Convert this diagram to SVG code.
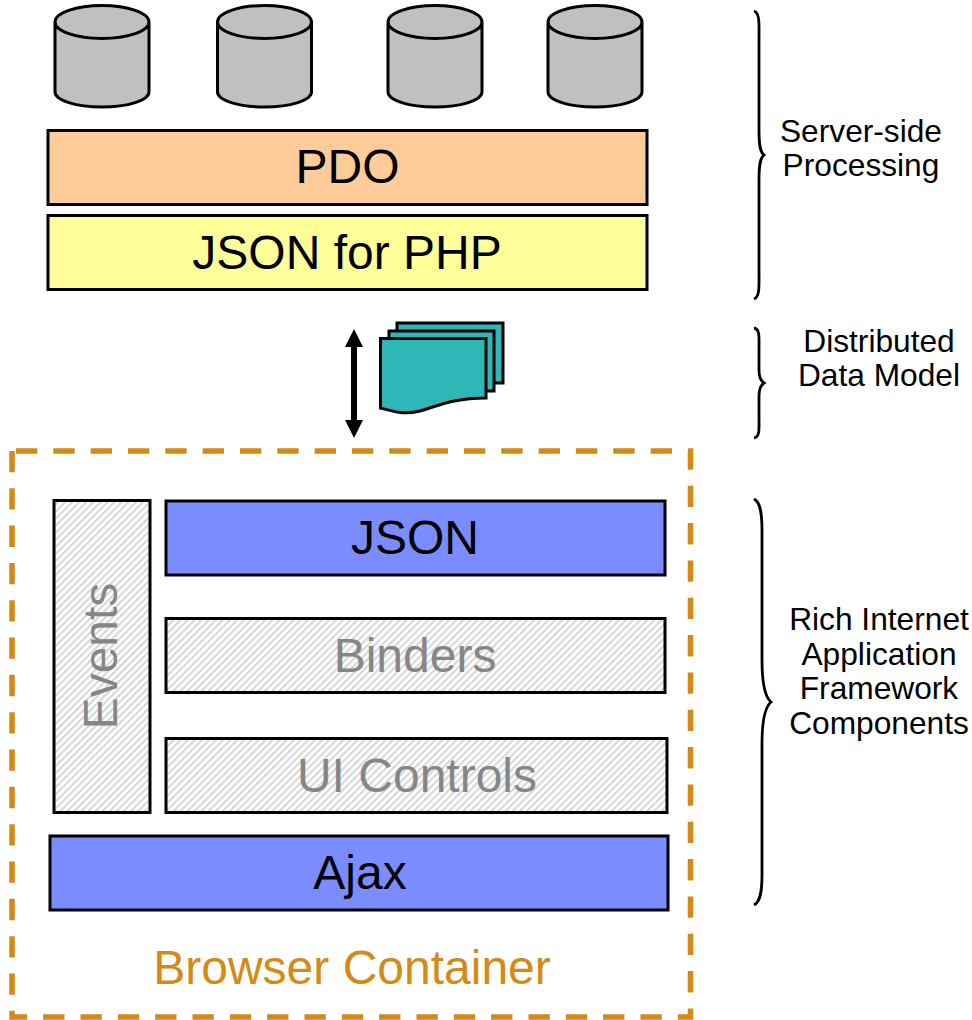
<svg xmlns="http://www.w3.org/2000/svg" width="972" height="1020" viewBox="0 0 972 1020">
<defs>
<pattern id="hatch" width="5" height="5" patternUnits="userSpaceOnUse" patternTransform="rotate(-45)">
<rect width="5" height="5" fill="#fff"/><rect width="5" height="2.200" fill="#d8d8d8"/>
</pattern>
<path id="cyl" d="M-47 -36V34A47 15 0 0 0 47 34V-36A47 16.500 0 0 0 -47 -36A47 16.500 0 0 0 47 -36"/>
</defs>
<style>
text{font-family:"Liberation Sans",Arial,sans-serif;text-anchor:middle}
.box{stroke:#000;stroke-width:3}
.big{font-size:48px;fill:#000}
.hat{fill:url(#hatch)}
.gry{font-size:48px;fill:#868686}
.side{font-size:31.700px;fill:#000}
.cyl{fill:#c0c0c0;stroke:#000;stroke-width:3}
.brace{fill:none;stroke:#000;stroke-width:2.800}
.sheet{fill:#2fb6b6;stroke:#000;stroke-width:3}
</style>
<g id="db1"><use href="#cyl" class="cyl" x="102" y="58"/></g>
<g id="db2"><use href="#cyl" class="cyl" x="264.500" y="58"/></g>
<g id="db3"><use href="#cyl" class="cyl" x="435" y="58"/></g>
<g id="db4"><use href="#cyl" class="cyl" x="595" y="58"/></g>
<g id="pdo"><rect class="box" x="48" y="130.500" width="599" height="74" fill="#ffcc99"/><text class="big" x="347.500" y="183">PDO</text></g>
<g id="jsonphp"><rect class="box" x="48" y="215.500" width="599" height="74" fill="#ffff99"/><text class="big" x="347" y="269">JSON for PHP</text></g>
<g id="doc">
<rect class="sheet" x="397" y="323" width="106" height="60"/>
<rect class="sheet" x="389" y="331" width="105" height="60"/>
<path class="sheet" d="M380.500 338.500H486V398C455 398 440 405 420 411C405 415 395 412 380.500 408Z"/>
</g>
<g id="container"><path d="M16 451H690.500V1017H12V451" fill="none" stroke="#d48a14" stroke-width="5.500" stroke-dasharray="21.330 16"/><text x="352" y="984" font-size="48" fill="#d48a14">Browser Container</text></g>
<g id="events"><rect class="box hat" x="54" y="500.500" width="96" height="312"/><text class="gry" transform="translate(117 656) rotate(-90)">Events</text></g>
<g id="json"><rect class="box" x="166" y="501" width="499" height="74" fill="#7a8cff"/><text class="big" x="415" y="554">JSON</text></g>
<g id="binders"><rect class="box hat" x="166" y="618.500" width="499" height="74"/><text class="gry" x="415" y="672">Binders</text></g>
<g id="uicontrols"><rect class="box hat" x="166" y="738.500" width="501" height="74"/><text class="gry" x="417" y="792">UI Controls</text></g>
<g id="ajax"><rect class="box" x="50" y="836" width="618" height="74" fill="#7a8cff"/><text class="big" x="360" y="889">Ajax</text></g>
<g id="labels">
<text class="side" x="861" y="142">Server-side</text><text class="side" x="861" y="176">Processing</text>
<text class="side" x="879" y="352">Distributed</text><text class="side" x="879" y="386">Data Model</text>
<text class="side" x="879" y="630">Rich Internet</text><text class="side" x="879" y="665">Application</text><text class="side" x="879" y="699">Framework</text><text class="side" x="879" y="734">Components</text>
</g>
<g id="connectors">
<path d="M354 329L363 347H357V420H363L354 438L345 420H351V347H345Z" fill="#000"/>
<path class="brace" d="M754 11C760 13 759 24 759 40V130C759 145 760 152 764 155C760 158 759 165 759 180V270C759 286 760 297 754 299"/>
<path class="brace" d="M754 328C760 329 759 337 759 348V370C759 378 761 381 764 383C761 385 759 388 759 396V418C759 429 760 437 754 438"/>
<path class="brace" d="M754 499C760 502 762 512 762 530V660C762 685 765 697 771 702C765 707 762 719 762 744V875C762 893 760 902 754 905"/>
</g>
</svg>
